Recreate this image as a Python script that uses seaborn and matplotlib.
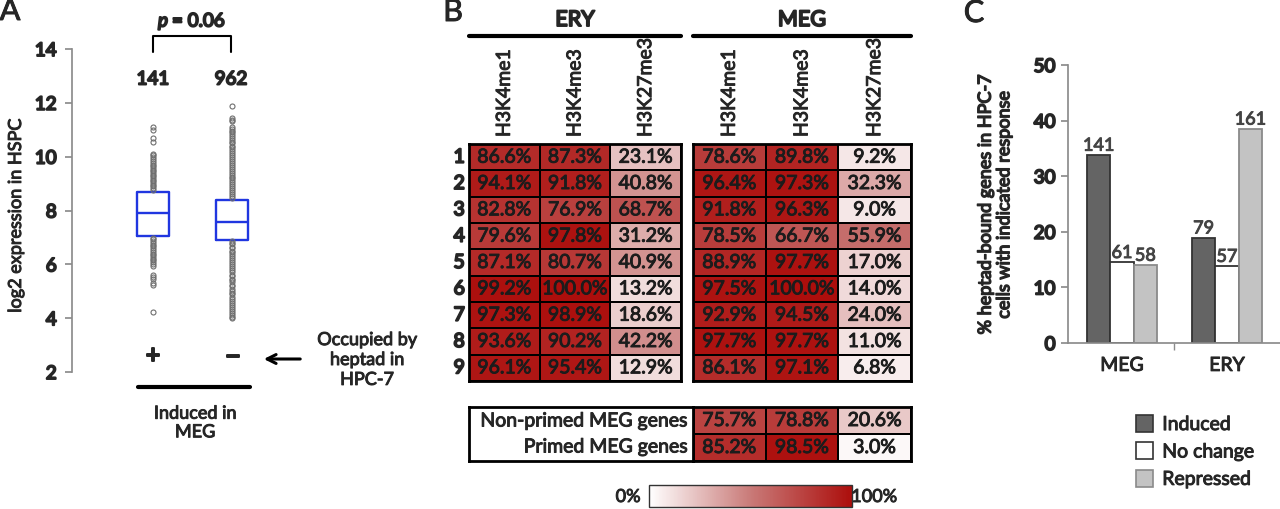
import numpy as np
import pandas as pd

import matplotlib
matplotlib.use("Agg")

import matplotlib.pyplot as plt
import matplotlib.patheffects as pe
from matplotlib.colors import LinearSegmentedColormap
from matplotlib.patches import Patch, FancyArrowPatch
import seaborn as sns

# ---- panel A : log2 expression, heptad-bound (+) vs not (-)
box_pos = [1, 2]
box_counts = ["141", "962"]
box_signs = ["+", "\u2013"]
box_q1 = [7.05, 6.90]
box_med = [7.90, 7.57]
box_q3 = [8.70, 8.40]
pos_fliers = [11.1, 11.0, 10.68, 10.55, 10.1, 10.05, 9.98, 9.92, 9.85, 9.78,
              9.7, 9.64, 9.58, 9.5, 9.47, 9.4, 9.33, 9.27, 9.2, 9.15, 9.08,
              9.02, 8.95, 8.9, 8.84, 8.78,
              6.98, 6.93, 6.86, 6.8, 6.73, 6.67, 6.6, 6.55, 6.47, 6.4, 6.36,
              6.28, 6.2, 6.15, 6.08, 6.0, 5.95, 5.6, 5.52, 5.45, 5.3, 5.22, 4.22]
neg_fliers = [11.9, 11.42, 11.38, 11.33, 11.1, 11.04, 10.97, 10.9, 10.85,
              10.78, 10.7, 10.62, 10.55, 10.5, 10.41, 10.35, 10.27, 10.2,
              10.12, 10.05, 9.98, 9.9, 9.84, 9.76, 9.7, 9.61, 9.55, 9.47, 9.4,
              9.33, 9.25, 9.2, 9.12, 9.05, 8.97, 8.9, 8.82, 8.75, 8.68, 8.6,
              8.53, 8.46,
              6.85, 6.8, 6.74, 6.66, 6.6, 6.51, 6.45, 6.38, 6.3, 6.22, 6.15,
              6.08, 6.0, 5.93, 5.85, 5.78, 5.7, 5.62, 5.55, 5.47, 5.4, 5.33,
              5.25, 5.18, 5.1, 5.02, 4.95, 4.88, 4.8, 4.72, 4.65, 4.57, 4.5,
              4.43, 4.35, 4.28, 4.2, 4.13, 4.06, 4.0]

# ---- panel B : % genes with histone mark, per cluster
marks = ["H3K4me1", "H3K4me3", "H3K27me3"]
clusters = ["1", "2", "3", "4", "5", "6", "7", "8", "9"]
ery_me1 = [86.6, 94.1, 82.8, 79.6, 87.1, 99.2, 97.3, 93.6, 96.1]
ery_me3 = [87.3, 91.8, 76.9, 97.8, 80.7, 100.0, 98.9, 90.2, 95.4]
ery_k27 = [23.1, 40.8, 68.7, 31.2, 40.9, 13.2, 18.6, 42.2, 12.9]
meg_me1 = [78.6, 96.4, 91.8, 78.5, 88.9, 97.5, 92.9, 97.7, 86.1]
meg_me3 = [89.8, 97.3, 96.3, 66.7, 97.7, 100.0, 94.5, 97.7, 97.1]
meg_k27 = [9.2, 32.3, 9.0, 55.9, 17.0, 14.0, 24.0, 11.0, 6.8]
primed_groups = ["Non-primed MEG genes", "Primed MEG genes"]
primed_me1 = [75.7, 85.2]
primed_me3 = [78.8, 98.5]
primed_k27 = [20.6, 3.0]

# ---- panel C : % heptad-bound genes with response
lineages = ["MEG", "ERY"]
responses = ["Induced", "No change", "Repressed"]
induced_pct = [33.8, 18.9]
nochange_pct = [14.5, 13.8]
repressed_pct = [14.0, 38.5]
induced_n = ["141", "79"]
nochange_n = ["61", "57"]
repressed_n = ["58", "161"]

sns.set_theme(style="white")
plt.rcParams['font.family'] = ['Lato', 'DejaVu Sans']

# the bold Lato face is not always found, so heavy text is drawn with the
# regular face plus a thicker outline stroke
heavy_texts = {}

W, H = 1280, 510
fig = plt.figure(figsize=(W / 100, H / 100), dpi=100)
fig.patch.set_facecolor("white")


def rect(l, t, r, b):
    return [l / W, 1 - b / H, (r - l) / W, (b - t) / H]


def ftext(x, y, s, heavy=0, **kw):
    kw.setdefault("ha", "center")
    kw.setdefault("va", "center")
    t = fig.text(x / W, 1 - y / H, s, **kw)
    if heavy:
        heavy_texts[id(t)] = heavy
    return t


def fline(xs, ys, **kw):
    fig.add_artist(plt.Line2D([x / W for x in xs], [1 - y / H for y in ys],
                              transform=fig.transFigure, **kw))


def make_heavy(labels, size, stroke=1.4):
    for lab in labels:
        lab.set_fontsize(size)
        heavy_texts[id(lab)] = stroke


grey = "#8c8c8c"

# ================= A
axA = fig.add_axes(rect(72, 50, 300, 373))
stats = []
for i, fl in enumerate([pos_fliers, neg_fliers]):
    stats.append(dict(med=box_med[i], q1=box_q1[i], q3=box_q3[i],
                      whislo=box_q1[i], whishi=box_q3[i], fliers=fl))
blue = "#2036e0"
axA.bxp(stats, positions=box_pos, widths=0.4, showcaps=False,
        boxprops=dict(color=blue, lw=1.7),
        medianprops=dict(color=blue, lw=1.7),
        whiskerprops=dict(lw=0),
        flierprops=dict(marker="o", mfc="none", mec="#6e6e6e", ms=3.6, mew=0.8))
axA.set_xlim(1 - 81 / 79, 1 + 147 / 79)
axA.set_ylim(2, 14)
axA.set_yticks(range(2, 15, 2))
axA.set_xticks([])
for s in ["top", "right", "bottom"]:
    axA.spines[s].set_visible(False)
axA.spines["left"].set_color(grey)
axA.tick_params(axis="y", left=True, length=5, color=grey, pad=6)
make_heavy(axA.get_yticklabels(), 13.5)
axA.set_facecolor("none")

ftext(16, 217, "log2 expression in HSPC", rotation=90, fontsize=13)
ftext(10, 12, "A", fontsize=22)
fline([153, 153, 231, 231], [53, 37, 37, 53], color="black", lw=1.5)
ftext(163, 22, "p", heavy=1.4, fontsize=13.5, style="italic")
ftext(172, 22, "= 0.06", heavy=1.4, fontsize=13.5, ha="left")
for i, xp in enumerate([153, 231]):
    ftext(xp, 80, box_counts[i], heavy=1.4, fontsize=13.5)
    ftext(xp + (2 if i else 0), 357, box_signs[i], heavy=1.4,
          fontsize=19 if i == 0 else 23)
fig.add_artist(FancyArrowPatch(
    (303 / W, 1 - 360 / H), (261 / W, 1 - 360 / H), transform=fig.transFigure,
    arrowstyle="->", mutation_scale=16, lw=2.2, color="black"))
ftext(367, 361, "Occupied by\nheptad in\nHPC-7", fontsize=13, linespacing=1.3)
fline([138, 250], [388, 388], color="black", lw=3)
ftext(195, 424, "Induced in\nMEG", fontsize=13, linespacing=1.2)

# ================= B
cmap = LinearSegmentedColormap.from_list(
    "wr", ["#ffffff", "#c97a78", "#ac0e0c"])
annot_kw = dict(color="#1c1c1c", fontsize=14)


def pct_labels(df):
    return df.map(lambda v: f"{v:.1f}%")


ery = pd.DataFrame({"H3K4me1": ery_me1, "H3K4me3": ery_me3,
                    "H3K27me3": ery_k27}, index=clusters)[marks]
meg = pd.DataFrame({"H3K4me1": meg_me1, "H3K4me3": meg_me3,
                    "H3K27me3": meg_k27}, index=clusters)[marks]
primed = pd.DataFrame({"H3K4me1": primed_me1, "H3K4me3": primed_me3,
                       "H3K27me3": primed_k27}, index=primed_groups)[marks]

axE = fig.add_axes(rect(469, 145, 681, 382))
axM = fig.add_axes(rect(693, 145, 911, 382))
axP = fig.add_axes(rect(693, 408, 911, 462))
cax = fig.add_axes(rect(649, 486, 852, 508))

sns.heatmap(ery, ax=axE, cmap=cmap, vmin=0, vmax=100, annot=pct_labels(ery),
            fmt="", cbar=False, linewidths=1.2, linecolor="black",
            annot_kws=annot_kw)
sns.heatmap(meg, ax=axM, cmap=cmap, vmin=0, vmax=100, annot=pct_labels(meg),
            fmt="", cbar=False, linewidths=1.2, linecolor="black",
            annot_kws=annot_kw)
sns.heatmap(primed, ax=axP, cmap=cmap, vmin=0, vmax=100,
            annot=pct_labels(primed), fmt="", cbar=True, cbar_ax=cax,
            cbar_kws=dict(orientation="horizontal"),
            linewidths=1.2, linecolor="black", annot_kws=annot_kw)

for ax in [axE, axM, axP]:
    for s in ax.spines.values():
        s.set_visible(True)
        s.set_linewidth(2)
        s.set_color("black")
    ax.set_xlabel("")
    ax.set_ylabel("")
for ax in [axE, axM]:
    ax.xaxis.tick_top()
    ax.set_xticklabels(marks, rotation=90, fontsize=14)
    ax.tick_params(axis="x", length=0, pad=5)
axE.set_yticklabels(clusters, rotation=0)
make_heavy(axE.get_yticklabels(), 14)
axE.tick_params(axis="y", length=0, pad=3)
axM.set_yticks([])
axP.set_xticks([])
axP.set_yticks([])

axL = fig.add_axes(rect(469, 408, 693, 462))
axL.set_xticks([])
axL.set_yticks([])
for s in axL.spines.values():
    s.set_linewidth(2)
    s.set_color("black")
for yy, lab in zip([422, 448], primed_groups):
    ftext(688, yy, lab, fontsize=14, ha="right")

cax.set_xticks([])
cax.set_yticks([])
cbar = axP.collections[0].colorbar
cbar.outline.set_edgecolor("#333333")
cbar.outline.set_linewidth(1)
ftext(628, 498, "0%", fontsize=13)
ftext(874, 498, "100%", fontsize=13)

ftext(453, 13, "B", fontsize=22)
ftext(575, 21, "ERY", heavy=1.4, fontsize=15.5)
ftext(802, 21, "MEG", heavy=1.4, fontsize=15.5)
fline([469, 681], [37, 37], color="black", lw=3)
fline([693, 911], [37, 37], color="black", lw=3)

# ================= C
dfC = pd.DataFrame({
    "lineage": lineages * 3,
    "response": np.repeat(responses, 2),
    "pct": induced_pct + nochange_pct + repressed_pct,
})
bar_face = ["#646464", "#ffffff", "#c3c3c3"]
bar_edge = ["#333333", "#333333", "#8a8a8a"]
bar_counts = [induced_n, nochange_n, repressed_n]

axC = fig.add_axes(rect(1068, 66, 1280, 344))
sns.barplot(data=dfC, x="lineage", y="pct", hue="response", order=lineages,
            hue_order=responses, palette=bar_face, width=0.667, gap=0,
            legend=False, ax=axC, linewidth=1.3)
for cont, ec, labs in zip(axC.containers, bar_edge, bar_counts):
    for bar in cont:
        bar.set_edgecolor(ec)
    axC.bar_label(cont, labels=labs, padding=1, fontsize=13, color="#444444")
axC.set_xlim(-0.514, 1.505)
axC.set_ylim(0, 50)
axC.set_yticks(range(0, 51, 10))
axC.set_xlabel("")
axC.set_ylabel("")
for s in ["top", "right"]:
    axC.spines[s].set_visible(False)
for s in ["left", "bottom"]:
    axC.spines[s].set_color(grey)
axC.tick_params(axis="y", left=True, length=5, color=grey, pad=4)
axC.tick_params(axis="x", length=0, labelsize=14, pad=10)
axC.set_xticks([0.5], minor=True)
axC.tick_params(axis="x", which="minor", bottom=True, length=5, color=grey)
make_heavy(axC.get_yticklabels(), 13.5)

ftext(995, 206, "% heptad-bound genes in HPC-7\ncells with indicated response",
      heavy=1.0, rotation=90, fontsize=13, linespacing=1.2)
ftext(974, 14, "C", fontsize=22)

handles = [Patch(facecolor=f, edgecolor=e, lw=1.2) for f, e in zip(bar_face, bar_edge)]
fig.legend(handles, responses, loc="upper left",
           bbox_to_anchor=(1136 / W, 1 - 416 / H), bbox_transform=fig.transFigure,
           frameon=False, fontsize=14, handlelength=0.85, handleheight=0.95,
           handletextpad=0.5, labelspacing=0.48, borderpad=0, borderaxespad=0)

# outline strokes: thin for normal text, thicker for the heavy labels
for t in fig.findobj(matplotlib.text.Text):
    if not t.get_text():
        continue
    lw = heavy_texts.get(id(t), 0.7)
    t.set_path_effects([pe.withStroke(linewidth=lw, foreground=t.get_color())])

fig.savefig("out.png", dpi=100)
